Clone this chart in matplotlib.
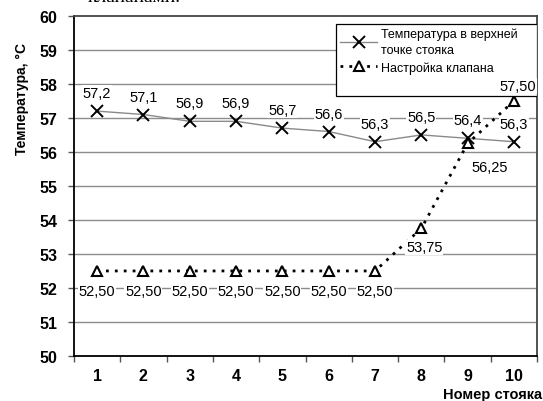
import numpy as np
import matplotlib
matplotlib.use('Agg')
import matplotlib.pyplot as plt
from matplotlib.patches import Rectangle

# Data
stoyak = [1, 2, 3, 4, 5, 6, 7, 8, 9, 10]
temp_top = [57.2, 57.1, 56.9, 56.9, 56.7, 56.6, 56.3, 56.5, 56.4, 56.3]
valve = [52.50, 52.50, 52.50, 52.50, 52.50, 52.50, 52.50, 53.75, 56.25, 57.50]
temp_labels = ['57,2', '57,1', '56,9', '56,9', '56,7', '56,6', '56,3', '56,5', '56,4', '56,3']
valve_labels = ['52,50', '52,50', '52,50', '52,50', '52,50', '52,50', '52,50', '53,75', '56,25', '57,50']

plt.rcParams['font.family'] = ['Liberation Sans', 'DejaVu Sans']

fig = plt.figure(figsize=(5.43, 4.02), dpi=100)
ax = fig.add_axes([0.1362, 0.112, 0.853, 0.846])

# grid
for v in range(51, 60):
    ax.axhline(v, color='#8c8c8c', lw=1.0, zorder=1)

l1, = ax.plot(stoyak, temp_top, color='#8a8a8a', lw=1.0, marker='x',
              markersize=9, markeredgecolor='black', markeredgewidth=1.4, zorder=3)
l2, = ax.plot(stoyak, valve, color='black', lw=2.0, linestyle=(0, (1, 2.2)),
              marker='^', markersize=7, markerfacecolor='white',
              markeredgecolor='black', markeredgewidth=1.5, zorder=4)

#labels for the temperature line, all above
for x, y, s in zip(stoyak, temp_top, temp_labels):
    ax.annotate(s, (x, y), xytext=(0, 18), textcoords='offset pixels',
                ha='center', va='center', fontsize=10.5, zorder=8,
                bbox=dict(facecolor='white', edgecolor='none', pad=0.5))

#labels for the valve line
valve_offsets = [(0, -20)] * 7 + [(3, -19), (22, -24), (4, 15)]
for (x, y, s), off in zip(zip(stoyak, valve, valve_labels), valve_offsets):
    ax.annotate(s, (x, y), xytext=off, textcoords='offset pixels',
                ha='center', va='center', fontsize=10.5, zorder=8,
                bbox=dict(facecolor='white', edgecolor='none', pad=0.5))

ax.set_xlim(0.5, 10.5)
ax.set_ylim(50, 60)
ax.set_yticks(range(50, 61))
ax.set_xticks(np.arange(0.5, 11, 1))
ax.set_xticklabels([])
ax.set_xticks(stoyak, minor=True)
ax.set_xticklabels([str(s) for s in stoyak], minor=True)
ax.tick_params(axis='x', which='major', direction='out', length=4, width=1, color='#555555')
ax.tick_params(axis='x', which='minor', length=0, pad=9, labelsize=11.5)
ax.tick_params(axis='y', direction='out', length=4, width=1, color='#555555', pad=8, labelsize=11.5)
for lab in ax.get_xticklabels(minor=True) + ax.get_yticklabels():
    lab.set_fontweight('bold')

for sp in ['left', 'bottom']:
    ax.spines[sp].set_color('black')
    ax.spines[sp].set_linewidth(1.3)
for sp in ['top', 'right']:
    ax.spines[sp].set_color('#444444')
    ax.spines[sp].set_linewidth(1.3)

# legend box (drawn separately, it is taller than the entries)
ax.add_patch(Rectangle((0.565, 0.765), 0.435, 0.21, transform=ax.transAxes,
                       facecolor='white', edgecolor='black', lw=0.9, zorder=6))
leg = ax.legend([l1, l2], ['Температура в верхней\nточке стояка', 'Настройка клапана'],
                loc='upper left', bbox_to_anchor=(0.566, 0.978), frameon=False,
                handlelength=3.0, prop={'family': 'Liberation Sans', 'size': 9},
                borderpad=0.3, labelspacing=0.4, handletextpad=0.3, borderaxespad=0)
leg.get_texts()[0].set_linespacing(1.5)
leg.set_zorder(7)

fig.text(0.04, 0.754, 'Температура, °С', rotation=90, ha='center', va='center',
         fontsize=10, fontweight='bold')
fig.text(0.998, 0.018, 'Номер стояка', ha='right', va='center',
         fontsize=10.5, fontweight='bold')
fig.text(0.162, 1.005, 'клапанами.', ha='left', va='center',
         fontsize=14, family='Liberation Serif')

plt.savefig('out.png', dpi=100)
